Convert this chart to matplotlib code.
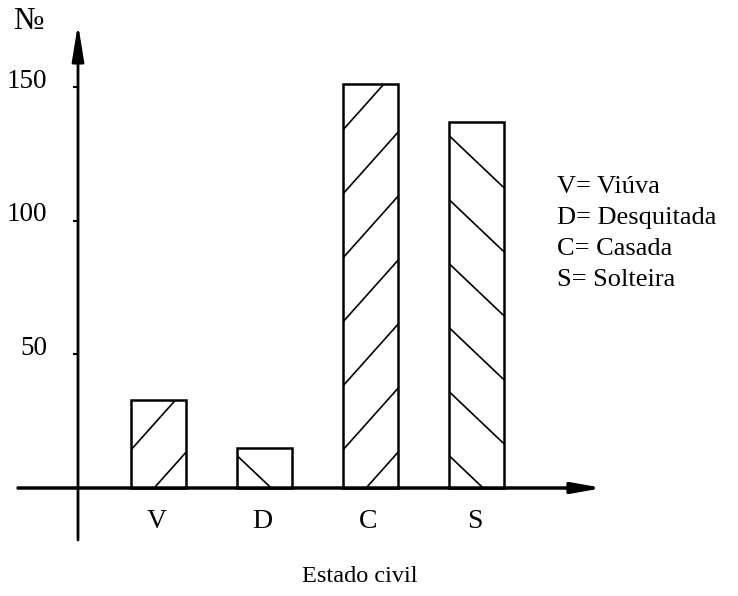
import matplotlib
matplotlib.use('Agg')
import matplotlib.pyplot as plt
import numpy as np

categories = ['V', 'D', 'C', 'S']
values = [33, 15, 151, 137]
hatch_dirs = ['/', '\\', '/', '\\']
yticks = [50, 100, 150]
ytick_labels = ['50', '100', '150']
legend_lines = ['V= Viúva', 'D= Desquitada', 'C= Casada', 'S= Solteira']
ylabel = '№'
xlabel = 'Estado civil'

plt.rcParams['font.family'] = ['Liberation Serif', 'DejaVu Serif']

W, H, DPI = 738, 596, 100
fig = plt.figure(figsize=(W / DPI, H / DPI), dpi=DPI)
ax = fig.add_axes([0, 0, 1, 1])
ax.axis('off')

# pixel <-> data mapping
x0px, xstep = 158.5, 106.0
y0px, ystep = 488.0, 401.0 / 150.0
ax.set_xlim(-x0px / xstep, (W - x0px) / xstep)
ax.set_ylim((y0px - H) / ystep, y0px / ystep)

def px_x(p):
    return (p - x0px) / xstep

def px_y(p):
    return (y0px - p) / ystep

# bars
xs = np.arange(len(categories))
bars = ax.bar(xs, values, width=0.51, facecolor='white', edgecolor='black',
              linewidth=1.8, zorder=2)

# sparse hand-drawn-like hatching
slope = 1.12 * xstep / ystep      # data units
spacing = 64.0 / ystep
for bar, d in zip(bars, hatch_dirs):
    xl, w, h = bar.get_x(), bar.get_width(), bar.get_height()
    xx = np.array([xl - 0.1, xl + w + 0.1])
    if d == '/':
        cs = np.arange(-slope * w - spacing * 0.45, h + spacing, spacing)
        for c in cs:
            ln, = ax.plot(xx, c + slope * (xx - xl), color='black', lw=1.2, zorder=3)
            ln.set_clip_path(bar)
    else:
        s2 = 0.95 * xstep / ystep
        cs = np.arange(spacing * 0.5, h + s2 * w + spacing, spacing)
        for c in cs:
            ln, = ax.plot(xx, c - s2 * (xx - xl), color='black', lw=1.2, zorder=3)
            ln.set_clip_path(bar)

# axes lines
xa = px_x(78)
ax.annotate('', xy=(xa, px_y(24)), xytext=(xa, px_y(540)),
            arrowprops=dict(arrowstyle='-|>,head_length=1.1,head_width=0.18',
                            lw=2.0, color='black', mutation_scale=20,
                            shrinkA=0, shrinkB=0), zorder=4)
ax.annotate('', xy=(px_x(603), 0), xytext=(px_x(18), 0),
            arrowprops=dict(arrowstyle='-|>,head_length=0.9,head_width=0.16',
                            lw=2.5, color='black', mutation_scale=20,
                            shrinkA=0, shrinkB=0), zorder=4)

# y ticks
for t, lab in zip(yticks, ytick_labels):
    ax.plot([px_x(74), xa], [t, t], color='black', lw=1.5, zorder=4)
    ax.annotate(lab, xy=(px_x(47), t), xytext=(0, 6), textcoords='offset pixels',
                ha='right', va='center', fontsize=19.5)

# category labels
for x, c in zip(xs, categories):
    ax.text(x - 0.02, px_y(521), c, ha='center', va='center', fontsize=20)

ax.text(px_x(13), px_y(22), ylabel, ha='left', va='center', fontsize=23)
ax.text(px_x(360), px_y(577), xlabel, ha='center', va='center', fontsize=17.5)

for i, t in enumerate(legend_lines):
    ax.text(px_x(557), px_y(187 + 31 * i), t, ha='left', va='center', fontsize=19)

fig.savefig('out.png', dpi=DPI)
